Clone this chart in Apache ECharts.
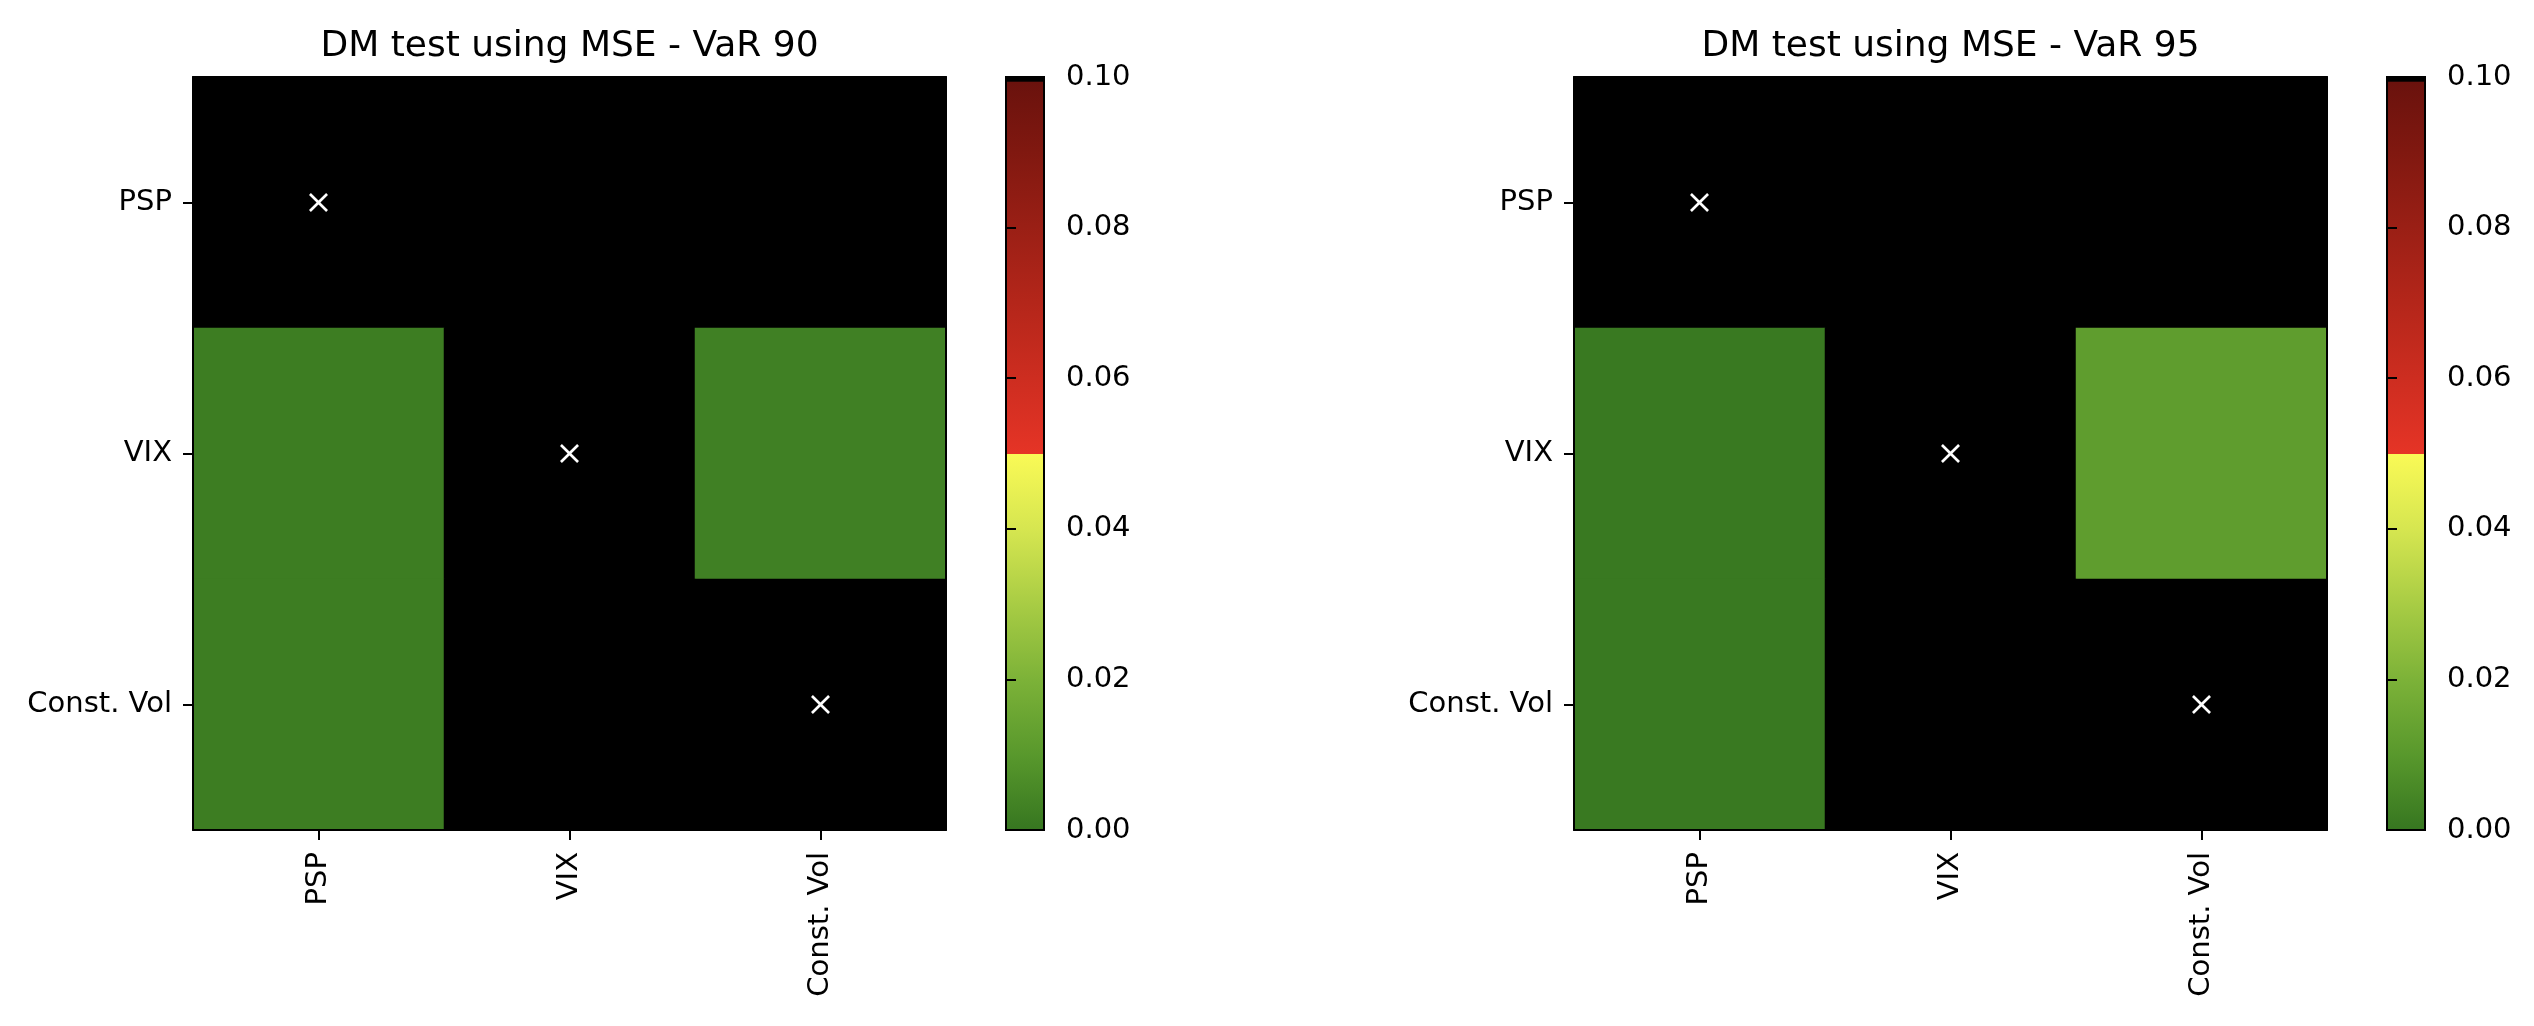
<!DOCTYPE html>
<html>
<head>
<meta charset="utf-8">
<script src="https://cdn.jsdelivr.net/npm/echarts@6/dist/echarts.min.js"></script>
<style>
  html, body { margin: 0; padding: 0; background: #fff; }
  #main { width: 2534px; height: 1026px; }
</style>
</head>
<body>
<div id="main"></div>
<script>
// model names, same order on both axes (rows = y, columns = x)
var models = ['PSP', 'VIX', 'Const. Vol'];

// DM test p-values (anything >= 0.1 shows black)
var pvalVaR90 = [
    [1.0, 1.0, 1.0],
    [0.002, 1.0, 0.003],
    [0.002, 1.0, 1.0]
];
var pvalVaR95 = [
    [1.0, 1.0, 1.0],
    [0.001, 1.0, 0.012],
    [0.001, 1.0, 1.0]
];
var panelTitles = ['DM test using MSE - VaR 90', 'DM test using MSE - VaR 95'];
var colorbarRange = [0, 0.1];
var colorbarStep = 0.02;

// colormap: green -> yellow below 0.05, red -> dark red above, black at top
var cmapAnchors = [
    [0.0, [54, 118, 32]],
    [0.01, [88, 152, 44]],
    [0.02, [124, 178, 56]],
    [0.03, [168, 204, 68]],
    [0.04, [214, 230, 80]],
    [0.04999, [250, 250, 86]],
    [0.05, [229, 52, 38]],
    [0.06, [205, 45, 32]],
    [0.07, [180, 38, 26]],
    [0.08, [154, 31, 21]],
    [0.09, [128, 24, 16]],
    [0.0992, [106, 18, 13]],
    [0.0993, [0, 0, 0]],
    [0.1, [0, 0, 0]]
];

function toHex(c) {
    return '#' + c.map(function(x) {
        var s = Math.round(x).toString(16);
        return s.length < 2 ? '0' + s : s;
    }).join('');
}

function cmap(v) {
    if (v <= cmapAnchors[0][0]) return toHex(cmapAnchors[0][1]);
    for (var i = 1; i < cmapAnchors.length; i++) {
        var a = cmapAnchors[i - 1], b = cmapAnchors[i];
        if (v <= b[0]) {
            var t = (v - a[0]) / (b[0] - a[0]);
            return toHex([0, 1, 2].map(function(k) {
                return a[1][k] + (b[1][k] - a[1][k]) * t;
            }));
        }
    }
    return toHex(cmapAnchors[cmapAnchors.length - 1][1]);
}

var vmColors = [];
for (var i = 0; i <= 500; i++) {
    vmColors.push(cmap(colorbarRange[0] + (colorbarRange[1] - colorbarRange[0]) * i / 500));
}
var gradStops = cmapAnchors.map(function(a) {
    return { offset: (a[0] - colorbarRange[0]) / (colorbarRange[1] - colorbarRange[0]), color: toHex(a[1]) };
});

var FONT = 'DejaVu Sans';
var tickFont = { fontFamily: FONT, fontSize: 29, color: '#000' };
var X_MARK = 'path://M0,1L1,0L5,4L9,0L10,1L6,5L10,9L9,10L5,6L1,10L0,9L4,5Z';

var myChart = echarts.init(document.getElementById('main'));

var option = {
    backgroundColor: '#fff',
    animation: false,
    title: [],
    grid: [],
    xAxis: [],
    yAxis: [],
    visualMap: [],
    series: []
};

function addPanel(p, left, title, values) {
    var top = 77, size = 753;
    var cbLeft = left + 813, cbWidth = 38;
    var g = option.grid.length;

    option.title.push({
        text: title,
        left: left + size / 2,
        top: 29,
        padding: 0,
        textAlign: 'center',
        textStyle: { fontFamily: FONT, fontSize: 36, fontWeight: 'normal', color: '#000' }
    });

    // heatmap grid
    option.grid.push({ left: left, top: top, width: size, height: size });
    var xi = option.xAxis.length, yi = option.yAxis.length;
    option.xAxis.push({
        type: 'category', gridIndex: g, data: models, position: 'bottom', z: 10,
        axisLine: { show: true, lineStyle: { color: '#000', width: 2 } },
        axisTick: { show: true, alignWithLabel: true, length: 10, lineStyle: { color: '#000', width: 2 } },
        axisLabel: Object.assign({ rotate: 90, margin: 22, interval: 0 }, tickFont),
        splitLine: { show: false }
    }, {
        type: 'category', gridIndex: g, data: models, position: 'top', z: 10,
        axisLine: { show: true, lineStyle: { color: '#000', width: 2 } },
        axisTick: { show: false }, axisLabel: { show: false }, splitLine: { show: false }
    });
    option.yAxis.push({
        type: 'category', gridIndex: g, data: models, inverse: true, position: 'left', z: 10,
        axisLine: { show: true, lineStyle: { color: '#000', width: 2 } },
        axisTick: { show: true, alignWithLabel: true, length: 10, lineStyle: { color: '#000', width: 2 } },
        axisLabel: Object.assign({ margin: 21, interval: 0 }, tickFont),
        splitLine: { show: false }
    }, {
        type: 'category', gridIndex: g, data: models, inverse: true, position: 'right', z: 10,
        axisLine: { show: true, lineStyle: { color: '#000', width: 2 } },
        axisTick: { show: false }, axisLabel: { show: false }, splitLine: { show: false }
    });

    var cells = [], diag = [];
    for (var r = 0; r < models.length; r++) {
        for (var c = 0; c < models.length; c++) {
            cells.push([c, r, values[r][c]]);
            if (r === c) diag.push([c, r]);
        }
    }
    var hs = option.series.length;
    option.series.push({
        type: 'heatmap', xAxisIndex: xi, yAxisIndex: yi, data: cells,
        itemStyle: { borderWidth: 0 }, emphasis: { disabled: true }
    });
    option.visualMap.push({
        type: 'continuous', show: false, seriesIndex: hs, dimension: 2,
        min: colorbarRange[0], max: colorbarRange[1],
        inRange: { color: vmColors }
    });
    option.series.push({
        type: 'scatter', xAxisIndex: xi, yAxisIndex: yi, data: diag, z: 5,
        symbol: X_MARK, symbolSize: 19,
        itemStyle: { color: '#fff', opacity: 1 }
    });

    // colorbar grid
    option.grid.push({ left: cbLeft, top: top, width: cbWidth, height: size });
    var cxi = option.xAxis.length, cyi = option.yAxis.length;
    option.xAxis.push({ type: 'value', gridIndex: g + 1, min: 0, max: 1, show: false });
    option.yAxis.push({
        type: 'value', gridIndex: g + 1, position: 'right',
        min: colorbarRange[0], max: colorbarRange[1], interval: colorbarStep, z: 10,
        axisLine: { show: true, lineStyle: { color: '#000', width: 2 } },
        axisTick: { show: true, length: 10, lineStyle: { color: '#000', width: 2 } },
        axisLabel: Object.assign({
            margin: 22,
            formatter: function(v) { return v.toFixed(2); }
        }, tickFont),
        splitLine: { show: false }
    });
    option.series.push({
        type: 'custom', xAxisIndex: cxi, yAxisIndex: cyi,
        data: [[0, colorbarRange[0], 1, colorbarRange[1]]],
        renderItem: function(params, api) {
            var p0 = api.coord([api.value(0), api.value(1)]);
            var p1 = api.coord([api.value(2), api.value(3)]);
            return {
                type: 'rect',
                shape: { x: p0[0], y: p1[1], width: p1[0] - p0[0], height: p0[1] - p1[1] },
                style: {
                    fill: new echarts.graphic.LinearGradient(0, 1, 0, 0, gradStops),
                    stroke: '#000', lineWidth: 2
                }
            };
        }
    });
}

addPanel(0, 193, panelTitles[0], pvalVaR90);
addPanel(1, 1574, panelTitles[1], pvalVaR95);

myChart.setOption(option);
</script>
</body>
</html>
